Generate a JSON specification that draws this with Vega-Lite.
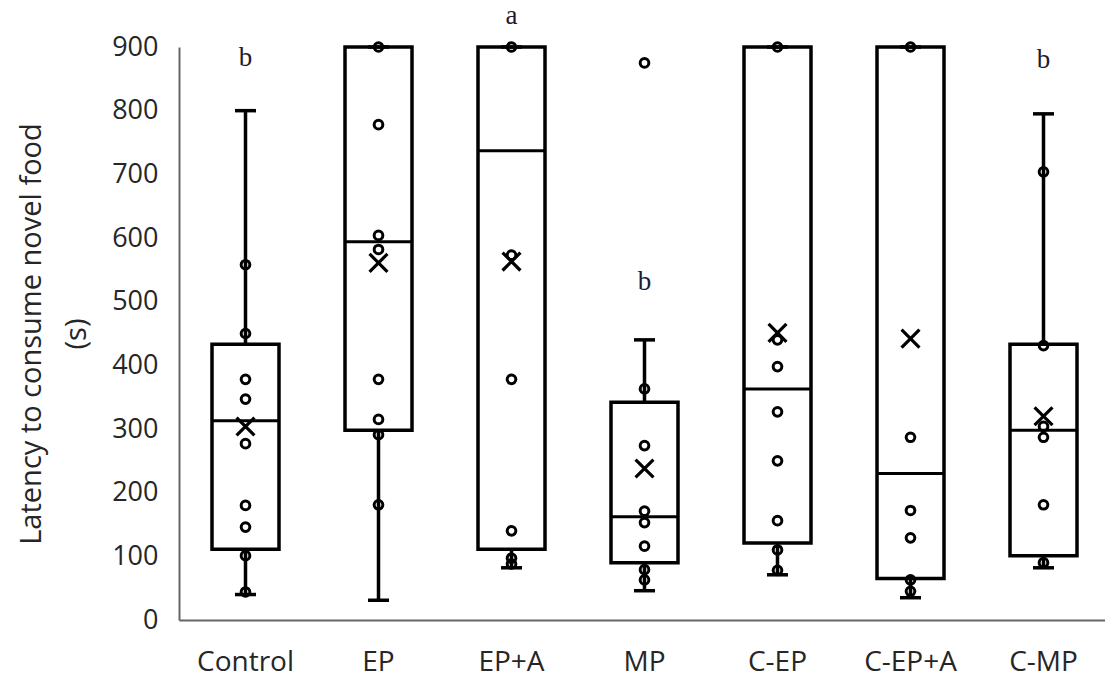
{
  "$schema": "https://vega.github.io/schema/vega-lite/v6.json",
  "width": 926,
  "height": 573,
  "autosize": {"type": "none"},
  "padding": {"left": 179, "top": 47, "right": 0, "bottom": 59},
  "background": "white",
  "config": {
    "view": {"stroke": null},
    "font": "Open Sans",
    "axisY": {
      "titleFont": "Open Sans",
      "titleFontSize": 29,
      "titleFontWeight": "normal",
      "titleColor": "#262626",
      "titleLineHeight": 45,
      "titlePadding": 20,
      "labelFontSize": 27,
      "labelFont": "Open Sans",
      "labelColor": "#262626",
      "labelPadding": 21,
      "ticks": false,
      "grid": false,
      "domainColor": "#666666",
      "domainWidth": 2
    }
  },
  "datasets": {
    "stats": [
      {"group": "Control", "lower": 40, "q1": 111, "median": 313, "q3": 433, "upper": 800, "mean": 304},
      {"group": "EP", "lower": 31, "q1": 298, "median": 594, "q3": 900, "upper": 900, "mean": 561},
      {"group": "EP+A", "lower": 82, "q1": 111, "median": 737, "q3": 900, "upper": 900, "mean": 563},
      {"group": "MP", "lower": 46, "q1": 90, "median": 162, "q3": 342, "upper": 440, "mean": 238},
      {"group": "C-EP", "lower": 71, "q1": 121, "median": 363, "q3": 900, "upper": 900, "mean": 451},
      {"group": "C-EP+A", "lower": 35, "q1": 65, "median": 230, "q3": 900, "upper": 900, "mean": 442},
      {"group": "C-MP", "lower": 82, "q1": 101, "median": 298, "q3": 433, "upper": 795, "mean": 320}
    ],
    "points": [
      {"group": "Control", "value": 558}, {"group": "Control", "value": 450}, {"group": "Control", "value": 378},
      {"group": "Control", "value": 347}, {"group": "Control", "value": 277}, {"group": "Control", "value": 180},
      {"group": "Control", "value": 146}, {"group": "Control", "value": 101}, {"group": "Control", "value": 44},
      {"group": "EP", "value": 900}, {"group": "EP", "value": 778}, {"group": "EP", "value": 604},
      {"group": "EP", "value": 582}, {"group": "EP", "value": 378}, {"group": "EP", "value": 315},
      {"group": "EP", "value": 291}, {"group": "EP", "value": 181},
      {"group": "EP+A", "value": 900}, {"group": "EP+A", "value": 573}, {"group": "EP+A", "value": 378},
      {"group": "EP+A", "value": 140}, {"group": "EP+A", "value": 97}, {"group": "EP+A", "value": 88},
      {"group": "MP", "value": 875}, {"group": "MP", "value": 363}, {"group": "MP", "value": 274},
      {"group": "MP", "value": 171}, {"group": "MP", "value": 153}, {"group": "MP", "value": 116},
      {"group": "MP", "value": 79}, {"group": "MP", "value": 63},
      {"group": "C-EP", "value": 900}, {"group": "C-EP", "value": 440}, {"group": "C-EP", "value": 398},
      {"group": "C-EP", "value": 327}, {"group": "C-EP", "value": 250}, {"group": "C-EP", "value": 156},
      {"group": "C-EP", "value": 110}, {"group": "C-EP", "value": 78},
      {"group": "C-EP+A", "value": 900}, {"group": "C-EP+A", "value": 287}, {"group": "C-EP+A", "value": 172},
      {"group": "C-EP+A", "value": 129}, {"group": "C-EP+A", "value": 63}, {"group": "C-EP+A", "value": 45},
      {"group": "C-MP", "value": 704}, {"group": "C-MP", "value": 431}, {"group": "C-MP", "value": 304},
      {"group": "C-MP", "value": 287}, {"group": "C-MP", "value": 181}, {"group": "C-MP", "value": 90}
    ],
    "letters": [
      {"group": "Control", "label": "b", "pos": 882},
      {"group": "EP+A", "label": "a", "pos": 948},
      {"group": "MP", "label": "b", "pos": 531},
      {"group": "C-MP", "label": "b", "pos": 880}
    ]
  },
  "encoding": {
    "x": {
      "field": "group",
      "type": "nominal",
      "sort": ["Control", "EP", "EP+A", "MP", "C-EP", "C-EP+A", "C-MP"],
      "scale": {"domain": ["Control", "EP", "EP+A", "MP", "C-EP", "C-EP+A", "C-MP"], "range": [0, 931], "paddingInner": 0, "paddingOuter": 0},
      "axis": {
        "title": null,
        "labelAngle": 0,
        "labelFontSize": 28,
        "labelFont": "Open Sans",
        "labelColor": "#262626",
        "labelPadding": 28,
        "ticks": false,
        "grid": false,
        "domainColor": "#666666",
        "domainWidth": 2
      }
    }
  },
  "layer": [
    {
      "data": {"name": "stats"},
      "mark": {"type": "rule", "color": "black", "strokeWidth": 3.5},
      "encoding": {
        "y": {"field": "lower", "type": "quantitative", "scale": {"domain": [0, 900], "nice": false},
          "axis": {"title": ["Latency to consume novel food", "(s)"], "values": [0, 100, 200, 300, 400, 500, 600, 700, 800, 900]}},
        "y2": {"field": "upper"}
      }
    },
    {
      "data": {"name": "stats"},
      "mark": {"type": "bar", "size": 67, "fill": "white", "stroke": "black", "strokeWidth": 3.5},
      "encoding": {
        "y": {"field": "q1", "type": "quantitative", "scale": {"domain": [0, 900], "nice": false},
          "axis": {"title": ["Latency to consume novel food", "(s)"], "values": [0, 100, 200, 300, 400, 500, 600, 700, 800, 900]}},
        "y2": {"field": "q3"}
      }
    },
    {
      "data": {"name": "stats"},
      "mark": {"type": "tick", "size": 67, "thickness": 3, "color": "black", "opacity": 1},
      "encoding": {
        "y": {"field": "median", "type": "quantitative", "scale": {"domain": [0, 900], "nice": false},
          "axis": {"title": ["Latency to consume novel food", "(s)"], "values": [0, 100, 200, 300, 400, 500, 600, 700, 800, 900]}}
      }
    },
    {
      "data": {"name": "stats"},
      "mark": {"type": "tick", "size": 21, "thickness": 3.5, "color": "black", "opacity": 1},
      "encoding": {
        "y": {"field": "lower", "type": "quantitative", "scale": {"domain": [0, 900], "nice": false},
          "axis": {"title": ["Latency to consume novel food", "(s)"], "values": [0, 100, 200, 300, 400, 500, 600, 700, 800, 900]}}
      }
    },
    {
      "data": {"name": "stats"},
      "mark": {"type": "tick", "size": 21, "thickness": 3.5, "color": "black", "opacity": 1},
      "encoding": {
        "y": {"field": "upper", "type": "quantitative", "scale": {"domain": [0, 900], "nice": false},
          "axis": {"title": ["Latency to consume novel food", "(s)"], "values": [0, 100, 200, 300, 400, 500, 600, 700, 800, 900]}}
      }
    },
    {
      "data": {"name": "points"},
      "mark": {"type": "point", "shape": "circle", "filled": false, "stroke": "black", "strokeWidth": 3, "size": 75, "opacity": 1},
      "encoding": {
        "y": {"field": "value", "type": "quantitative", "scale": {"domain": [0, 900], "nice": false},
          "axis": {"title": ["Latency to consume novel food", "(s)"], "values": [0, 100, 200, 300, 400, 500, 600, 700, 800, 900]}}
      }
    },
    {
      "data": {"name": "stats"},
      "mark": {"type": "point", "shape": "M-1,-1L1,1M1,-1L-1,1", "filled": false, "stroke": "black", "strokeWidth": 3.2, "size": 320, "opacity": 1},
      "encoding": {
        "y": {"field": "mean", "type": "quantitative", "scale": {"domain": [0, 900], "nice": false},
          "axis": {"title": ["Latency to consume novel food", "(s)"], "values": [0, 100, 200, 300, 400, 500, 600, 700, 800, 900]}}
      }
    },
    {
      "data": {"name": "letters"},
      "mark": {"type": "text", "font": "Liberation Serif", "fontSize": 27, "color": "#1c1c30", "baseline": "middle", "align": "center"},
      "encoding": {
        "y": {"field": "pos", "type": "quantitative", "scale": {"domain": [0, 900], "nice": false},
          "axis": {"title": ["Latency to consume novel food", "(s)"], "values": [0, 100, 200, 300, 400, 500, 600, 700, 800, 900]}},
        "text": {"field": "label"}
      }
    }
  ]
}
